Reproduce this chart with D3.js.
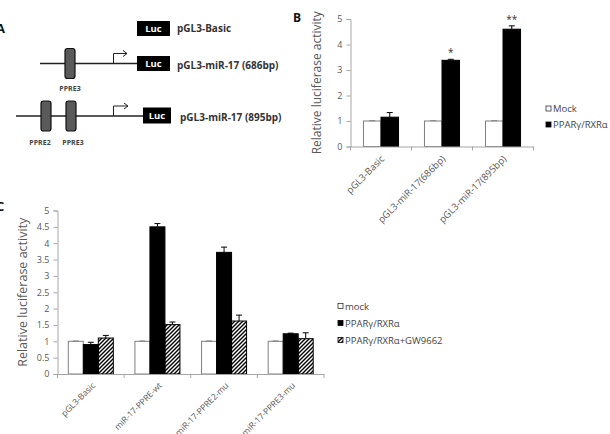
<!DOCTYPE html>
<html>
<head>
<meta charset="utf-8">
<script src="https://cdn.jsdelivr.net/npm/d3@7"></script>
<style>
  body { margin: 0; background: #fff; }
  svg { display: block; font-family: "Open Sans", "Noto Sans", sans-serif; }
</style>
</head>
<body>
<div id="chart"></div>
<script>
// panel B data
const bCategories = ["pGL3-Basic", "pGL3-miR-17(686bp)", "pGL3-miR-17(895bp)"];
const bSeries = ["Mock", "PPARγ/RXRα"];
const bMock = [1, 1, 1];
const bMockErr = [0.01, 0.01, 0.01];
const bPpar = [1.15, 3.38, 4.6];
const bPparErr = [0.18, 0.04, 0.13];
const bStars = ["", "*", "**"];

// panel C data
const cCategories = ["pGL3-Basic", "miR-17-PPRE-wt", "miR-17-PPRE2-mu", "miR-17-PPRE3-mu"];
const cSeries = ["mock", "PPARγ/RXRα", "PPARγ/RXRα+GW9662"];
const cMock = [1, 1, 1, 1];
const cMockErr = [0.01, 0.01, 0.01, 0.01];
const cPpar = [0.9, 4.5, 3.72, 1.23];
const cPparErr = [0.07, 0.1, 0.16, 0.02];
const cGw = [1.1, 1.51, 1.62, 1.08];
const cGwErr = [0.08, 0.08, 0.18, 0.18];

const yTicksB = [0, 1, 2, 3, 4, 5];
const yTicksC = [0, 0.5, 1, 1.5, 2, 2.5, 3, 3.5, 4, 4.5, 5];

const width = 610, height = 434;
const svg = d3.select("#chart").append("svg")
    .attr("width", width)
    .attr("height", height);

svg.append("rect").attr("width", width).attr("height", height).attr("fill", "#fff");

const defs = svg.append("defs");
defs.append("pattern")
    .attr("id", "hatch")
    .attr("patternUnits", "userSpaceOnUse")
    .attr("width", 4).attr("height", 4)
  .append("path")
    .attr("d", "M-1,1 l2,-2 M0,4 l4,-4 M3,5 l2,-2")
    .attr("stroke", "#000")
    .attr("stroke-width", 1.4);

const fills = {white: "#fff", black: "#000", hatch: "url(#hatch)"};
const strokes = {white: "#7f7f7f", black: "#000", hatch: "#000"};

// panel letters (cut at the left edge, as in the figure)
svg.append("text").attr("x", -4).attr("y", 33).attr("font-size", 13).attr("font-weight", "bold").attr("fill", "#111").text("A");
svg.append("text").attr("x", 293).attr("y", 22).attr("font-size", 12).attr("font-weight", "bold").attr("fill", "#111").text("B");
svg.append("text").attr("x", -4).attr("y", 211).attr("font-size", 13).attr("font-weight", "bold").attr("fill", "#111").text("C");

// ---------- panel A : construct diagram ----------
const a = svg.append("g").attr("font-weight", "bold");

function luc(x, y, w, h) {
    a.append("rect").attr("x", x).attr("y", y).attr("width", w).attr("height", h).attr("fill", "#000");
    a.append("text").attr("x", x + w / 2).attr("y", y + h / 2 + 3.3)
        .attr("text-anchor", "middle").attr("font-size", 9.5).attr("fill", "#fff").text("Luc");
}
function ppre(x, y) {
    a.append("rect").attr("x", x).attr("y", y).attr("width", 10).attr("height", 30)
        .attr("rx", 2.5).attr("fill", "#5a5a5a").attr("stroke", "#111").attr("stroke-width", 1.2);
}
function promoter(x, y, top, x2) {
    a.append("path").attr("d", `M${x},${y} V${top} H${x2}`).attr("fill", "none").attr("stroke", "#222").attr("stroke-width", 1);
    a.append("path").attr("d", `M${x2 - 4},${top - 3} L${x2},${top} L${x2 - 4},${top + 3}`)
        .attr("fill", "none").attr("stroke", "#222").attr("stroke-width", 1);
}
function label(x, y, t, size) {
    a.append("text").attr("x", x).attr("y", y).attr("font-size", size).attr("fill", "#333").text(t);
}

// row 1
luc(137, 21, 33, 15);
label(177, 32, "pGL3-Basic", 10);
// row 2
a.append("line").attr("x1", 40).attr("x2", 137).attr("y1", 63.5).attr("y2", 63.5).attr("stroke", "#222").attr("stroke-width", 1.3);
ppre(65, 48.5);
promoter(113.5, 63.5, 53.5, 127);
luc(137, 56, 33, 15);
label(177, 68.5, "pGL3-miR-17 (686bp)", 10);
a.append("text").attr("x", 70).attr("y", 91).attr("text-anchor", "middle").attr("font-size", 7).attr("fill", "#444").text("PPRE3");
// row 3
a.append("line").attr("x1", 16).attr("x2", 143).attr("y1", 116).attr("y2", 116).attr("stroke", "#222").attr("stroke-width", 1.3);
ppre(41, 101);
ppre(66, 101);
promoter(113.5, 116, 106, 128);
luc(143, 107.5, 28, 16);
label(180, 121, "pGL3-miR-17 (895bp)", 10);
a.append("text").attr("x", 40).attr("y", 145).attr("text-anchor", "middle").attr("font-size", 7).attr("fill", "#444").text("PPRE2");
a.append("text").attr("x", 73).attr("y", 145).attr("text-anchor", "middle").attr("font-size", 7).attr("fill", "#444").text("PPRE3");

// ---------- generic grouped bar chart ----------
function barChart(opt) {
    const g = svg.append("g");
    const x = d3.scaleBand().domain(opt.categories).range(opt.xRange);
    const y = d3.scaleLinear().domain([0, 5]).range(opt.yRange);
    const xSub = d3.scaleBand().domain(opt.series.map((s, i) => i))
        .range([0, x.bandwidth()]).paddingInner(0).paddingOuter(opt.outer);

    // y axis
    const yAxis = g.append("g")
        .attr("transform", `translate(${opt.xRange[0]},0)`)
        .call(d3.axisLeft(y).tickValues(opt.yTicks).tickSize(4).tickPadding(4).tickFormat(d3.format("")));
    yAxis.selectAll("path, line").attr("stroke", "#a6a6a6");
    yAxis.selectAll("text").attr("fill", "#595959").attr("font-size", 9).attr("font-family", "Open Sans, sans-serif");

    // bars
    opt.values.forEach((vals, si) => {
        const kind = opt.kinds[si];
        g.append("g").selectAll("rect")
            .data(vals)
            .join("rect")
            .attr("x", (d, i) => x(opt.categories[i]) + xSub(si))
            .attr("y", d => y(d))
            .attr("width", xSub.bandwidth())
            .attr("height", d => y(0) - y(d))
            .attr("fill", fills[kind])
            .attr("stroke", strokes[kind])
            .attr("stroke-width", 1);
        // error bars (upper only)
        const eg = g.append("g").attr("stroke", kind === "white" ? "#7f7f7f" : "#000").attr("stroke-width", 1);
        vals.forEach((d, i) => {
            const cx = x(opt.categories[i]) + xSub(si) + xSub.bandwidth() / 2;
            const top = y(d + opt.errors[si][i]);
            eg.append("line").attr("x1", cx).attr("x2", cx).attr("y1", y(d)).attr("y2", top);
            eg.append("line").attr("x1", cx - 3).attr("x2", cx + 3).attr("y1", top).attr("y2", top);
        });
    });

    // x axis
    const xAxis = g.append("g")
        .attr("transform", `translate(0,${opt.yRange[0]})`)
        .call(d3.axisBottom(x).tickSize(0).tickFormat(""));
    xAxis.select("path").attr("stroke", "#a6a6a6");
    const bounds = opt.categories.map(c => x(c)).concat([opt.xRange[1]]);
    xAxis.selectAll("line.bound").data(bounds).join("line")
        .attr("class", "bound")
        .attr("x1", d => d).attr("x2", d => d)
        .attr("y1", 0).attr("y2", 4)
        .attr("stroke", "#a6a6a6");

    // rotated category labels
    g.append("g").selectAll("text")
        .data(opt.categories)
        .join("text")
        .attr("transform", d => `translate(${x(d) + x.bandwidth() / 2 + opt.labelDx},${opt.yRange[0] + opt.labelDy}) rotate(-45)`)
        .attr("text-anchor", "end")
        .attr("font-size", opt.labelSize)
        .attr("fill", "#595959")
        .text(d => d);

    // y label
    g.append("text")
        .attr("transform", `translate(${opt.yLabelX},${(opt.yRange[0] + opt.yRange[1]) / 2}) rotate(-90)`)
        .attr("text-anchor", "middle")
        .attr("font-size", opt.yLabelSize)
        .attr("fill", "#595959")
        .text("Relative luciferase activity");

    // legend
    const lg = g.append("g");
    opt.series.forEach((s, i) => {
        const ly = opt.legend[1] + i * opt.legend[2];
        const kind = opt.kinds[i];
        lg.append("rect").attr("x", opt.legend[0]).attr("y", ly - 5).attr("width", 5).attr("height", 5)
            .attr("fill", kind === "hatch" ? "url(#hatch)" : fills[kind])
            .attr("stroke", kind === "white" ? "#333" : "#000").attr("stroke-width", 0.8);
        lg.append("text").attr("x", opt.legend[0] + 7).attr("y", ly + 1)
            .attr("font-size", 9.5).attr("fill", "#444").text(s);
    });

    return {g, x, y, xSub};
}

// ---------- panel B ----------
const B = barChart({
    categories: bCategories,
    series: bSeries,
    values: [bMock, bPpar],
    errors: [bMockErr, bPparErr],
    kinds: ["white", "black"],
    xRange: [350.5, 533.5],
    yRange: [146.5, 19],
    yTicks: yTicksB,
    outer: 0.74,
    labelDx: 4,
    labelDy: 13,
    labelSize: 9.5,
    yLabelX: 321,
    yLabelSize: 12,
    legend: [546, 111, 16]
});
B.g.append("g").selectAll("text")
    .data(bStars)
    .join("text")
    .attr("x", (d, i) => B.x(bCategories[i]) + B.xSub(1) + B.xSub.bandwidth() / 2)
    .attr("y", (d, i) => B.y(bPpar[i] + bPparErr[i]) - 3)
    .attr("text-anchor", "middle")
    .attr("font-size", 10)
    .attr("fill", "#333")
    .text(d => d);

// ---------- panel C ----------
barChart({
    categories: cCategories,
    series: cSeries,
    values: [cMock, cPpar, cGw],
    errors: [cMockErr, cPparErr, cGwErr],
    kinds: ["white", "black", "hatch"],
    xRange: [57.5, 324],
    yRange: [374, 210.5],
    yTicks: yTicksC,
    outer: 0.72,
    labelDx: 5,
    labelDy: 12,
    labelSize: 8.5,
    yLabelX: 27,
    yLabelSize: 12.5,
    legend: [338, 308.5, 17]
});
</script>
</body>
</html>
